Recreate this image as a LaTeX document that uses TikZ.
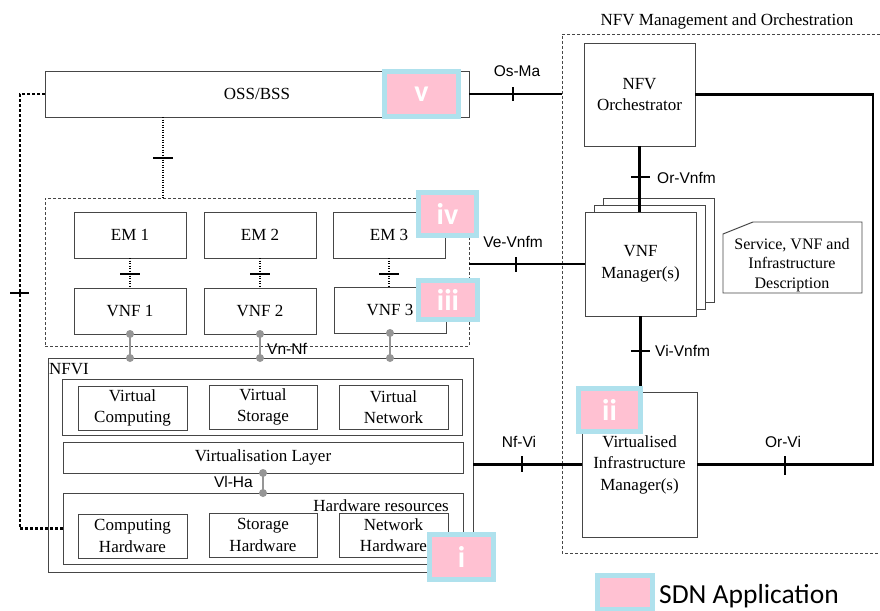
\documentclass[tikz,border=0pt]{standalone}
\usepackage{fontspec}
\setmainfont{Liberation Serif}
\newfontfamily\ifsans{Liberation Sans}
\newfontfamily\badgefont{Carlito}
\usetikzlibrary{calc}

\definecolor{edgegray}{RGB}{70,70,70}
\definecolor{sdnpink}{RGB}{255,193,210}
\definecolor{sdnblue}{RGB}{175,225,237}
\definecolor{linkgray}{RGB}{150,150,150}

\tikzset{
  box/.style={draw=edgegray, line width=0.95pt, fill=white, inner sep=0pt, outer sep=0pt,
    align=center, anchor=north west, font=\fontsize{17}{21.5}\selectfont},
  grp/.style={draw=edgegray, line width=0.9pt, dash pattern=on 3pt off 2pt,
    inner sep=0pt, outer sep=0pt, anchor=north west},
  link/.style={line width=2.8pt, black},
  tickm/.style={line width=1.1pt, black},
  softdot/.style={line width=1.1pt, black, dash pattern=on 1pt off 1.5pt},
  heavydot/.style={line width=2.6pt, black, dash pattern=on 2.6pt off 2.4pt},
  iflabel/.style={font=\ifsans\fontsize{15.5}{18}\selectfont, inner sep=0pt},
  txt/.style={inner sep=0pt, font=\fontsize{17}{21.5}\selectfont},
  badge/.style={fill=sdnpink, draw=sdnblue, line width=5pt, inner sep=0pt, outer sep=0pt,
    anchor=north west, text=white, font=\badgefont\bfseries\fontsize{30}{30}\selectfont},
  vnlink/.style={linkgray, line width=2.4pt},
  joint/.style={circle, fill=linkgray, inner sep=0pt, minimum size=8pt}
}

\begin{document}
\begin{tikzpicture}[x=1pt, y=-1pt]
\useasboundingbox (0,0) rectangle (880,610);

% ---------------- OSS/BSS ----------------
\node[box, minimum width=424, minimum height=46] (oss) at (45,71) {OSS/BSS};

% ---------------- VNF group ----------------
\node[grp, minimum width=424, minimum height=148] (vnfgrp) at (45,198) {};
\node[box, minimum width=112, minimum height=46] (em1) at (74,212) {EM 1};
\node[box, minimum width=112, minimum height=46] (em2) at (204,212) {EM 2};
\node[box, minimum width=112, minimum height=46] (em3) at (333,212) {EM 3};
\node[box, minimum width=112, minimum height=46] (vnf1) at (74,288) {VNF 1};
\node[box, minimum width=112, minimum height=46] (vnf2) at (204,288) {VNF 2};
\node[box, minimum width=112, minimum height=46] (vnf3) at (334,287) {VNF 3};

% ---------------- NFVI ----------------
\node[box, fill=none, minimum width=425, minimum height=214] (nfvi) at (48,358) {};
\node[txt, anchor=base west] (nfvilabel) at (49,374) {NFVI};
\node[box, minimum width=400, minimum height=56] (vres) at (62,379) {};
\node[box, minimum width=109, minimum height=44] (vcomp) at (78,386) {Virtual\\Computing};
\node[box, minimum width=108, minimum height=44] (vsto) at (209,385) {Virtual\\Storage};
\node[box, minimum width=109, minimum height=44] (vnet) at (339,385) {Virtual\\Network};
\node[box, minimum width=400, minimum height=31] (vlayer) at (63,442) {Virtualisation Layer};
\node[box, minimum width=400, minimum height=71] (hwres) at (63,493) {};
\node[txt, anchor=base east] (hwlabel) at (449,511) {Hardware resources};
\node[box, minimum width=109, minimum height=44] (chw) at (78,514) {Computing\\Hardware};
\node[box, minimum width=108, minimum height=44] (shw) at (209,513) {Storage\\Hardware};
\node[box, minimum width=109, minimum height=44] (nhw) at (339,513) {Network\\Hardware};

% ---------------- NFV MANO ----------------
\node[txt, anchor=base] (manotitle) at (727,26) {NFV Management and Orchestration};
\draw[edgegray, line width=0.9pt, dash pattern=on 3pt off 2pt]
  (880,34) -- (562,34) -- (562,553) -- (880,553);
\coordinate (manoedge) at (562,0);
\coordinate (rail) at (873,0);

\node[box, minimum width=111, minimum height=103] (nfvo) at (584,43) {NFV\\Orchestrator};
\node[box, minimum width=111, minimum height=104] (vnfmb) at (603,198) {};
\node[box, minimum width=111, minimum height=104] (vnfma) at (594,205) {};
\node[box, minimum width=111, minimum height=104] (vnfm) at (585,212) {VNF\\Manager(s)};
\node[box, minimum width=115, minimum height=145] (vim) at (582,392)
  {Virtualised\\Infrastructure\\Manager(s)};

% descriptor sheet with a cut corner
\draw[edgegray, line width=0.95pt, fill=white]
  (723,293) -- (723,234) -- (753,222) -- (862,222) -- (862,293) -- cycle;
\node[inner sep=0pt, align=center, font=\fontsize{16}{19.5}\selectfont] (desc) at (792,265)
  {Service, VNF and\\Infrastructure\\Description};

% ---------------- reference points ----------------
% Os-Ma
\draw[link] (oss.east) -- (oss.east -| manoedge);
\draw[tickm] (513,87) -- (513,101);
\node[iflabel, anchor=base] (osma) at (517,76) {Os-Ma};

% Orchestrator to VIM (Or-Vi)
\draw[link] (nfvo.east) -- (nfvo.east -| rail) -- (vim.east -| rail) -- (vim.east);
\draw[tickm] (785,456) -- (785,475);
\node[iflabel, anchor=base] (orvi) at (783,447) {Or-Vi};

% Or-Vnfm
\draw[link] (nfvo.south) -- (nfvo.south |- vnfm.north);
\draw[tickm] (631,177) -- (650,177);
\node[iflabel, anchor=base west] (orvnfm) at (657,183) {Or-Vnfm};

% Vi-Vnfm
\draw[link] (vnfm.south) -- (vnfm.south |- vim.north);
\draw[tickm] (631,351) -- (650,351);
\node[iflabel, anchor=base west] (vivnfm) at (655,356) {Vi-Vnfm};

% Ve-Vnfm
\draw[link] (vnfgrp.east |- vnfm.west) -- (vnfm.west);
\draw[tickm] (516,257) -- (516,272);
\node[iflabel, anchor=base] (vevnfm) at (513,247) {Ve-Vnfm};

% Nf-Vi
\draw[link] (nfvi.east |- vim.west) -- (vim.west);
\draw[tickm] (522,456) -- (522,472);
\node[iflabel, anchor=base] (nfvi-if) at (519,447) {Nf-Vi};

% OSS/BSS to the VNF group
\draw[softdot] (163,0 |- oss.south) -- (163,0 |- vnfgrp.north);
\draw[tickm] (153,158) -- (173,158);

% EM to VNF
\draw[softdot] (em1.south) -- (em1.south |- vnf1.north);
\draw[softdot] (em2.south) -- (em2.south |- vnf2.north);
\draw[softdot] (em3.south) -- (em3.south |- vnf3.north);
\draw[tickm] (120,274) -- (140,274);
\draw[tickm] (250,274) -- (270,274);
\draw[tickm] (379,274) -- (399,274);

% OSS/BSS to hardware resources
\draw[heavydot] (oss.west) -- (20,0 |- oss.west) -- (20,0 |- hwres.west) -- (hwres.west);
\draw[tickm] (10,293) -- (29,293);

% Vn-Nf
\foreach \v in {vnf1,vnf2,vnf3}{
  \draw[vnlink] (\v.south) -- (\v.south |- nfvi.north);
  \node[joint] at (\v.south) {};
  \node[joint] at (\v.south |- nfvi.north) {};
}
\node[iflabel, anchor=base west] (vnnf) at (267,354) {Vn-Nf};

% Vl-Ha
\draw[vnlink] (vlayer.south) -- (vlayer.south |- hwres.north);
\node[joint] at (vlayer.south) {};
\node[joint] at (vlayer.south |- hwres.north) {};
\node[iflabel, anchor=base east] (vlha) at (253,487) {Vl-Ha};

% ---------------- SDN application markers ----------------
\node[badge, minimum width=74, minimum height=45] (bv) at (384.5,71.5) {v};
\node[badge, minimum width=58, minimum height=43] (biv) at (418.5,192.5) {iv};
\node[badge, minimum width=59, minimum height=39] (biii) at (418.5,280.5) {iii};
\node[badge, minimum width=62, minimum height=43] (bii) at (578.5,388.5) {ii};
\node[badge, minimum width=64, minimum height=45] (bi) at (429.5,534.5) {i};

% legend
\node[badge, minimum width=55, minimum height=34] (legbadge) at (597.5,575.5) {};
\node[inner sep=0pt, anchor=base west, font=\badgefont\fontsize{27.5}{30}\selectfont]
  (legtext) at (659,603) {SDN Application};
\end{tikzpicture}
\end{document}
